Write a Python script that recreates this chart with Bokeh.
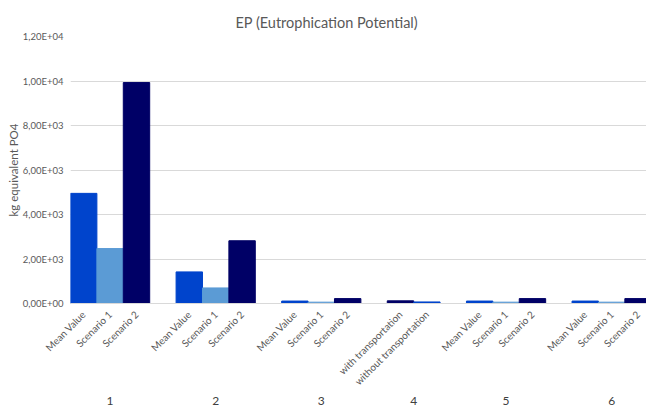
import math

from bokeh.plotting import figure
from bokeh.models import (ColumnDataSource, FixedTicker, CustomJSTickFormatter,
                          LinearAxis, Range1d)
from bokeh.embed import file_html
from bokeh.resources import INLINE

# Chart data: six cases, each with its own set of variants
groups = ["1", "2", "3", "4", "5", "6"]
group_sizes = [3, 3, 3, 2, 3, 3]
leaf_labels = [
    "Mean Value", "Scenario 1", "Scenario 2",
    "Mean Value", "Scenario 1", "Scenario 2",
    "Mean Value", "Scenario 1", "Scenario 2",
    "with transportation", "without transportation",
    "Mean Value", "Scenario 1", "Scenario 2",
    "Mean Value", "Scenario 1", "Scenario 2",
]
ep_values = [
    4950, 2470, 9930,
    1420, 700, 2820,
    110, 60, 220,
    120, 70,
    110, 60, 220,
    110, 60, 220,
]
y_ticks = [0, 2000, 4000, 6000, 8000, 10000, 12000]

# Bar colours per variant
variant_colors = {
    "Mean Value": "#0044CC",
    "Scenario 1": "#5B9BD5",
    "Scenario 2": "#000066",
    "with transportation": "#000066",
    "without transportation": "#0044CC",
}

# Position each bar: two units per bar, one empty bar slot between cases
leaf_x, leaf_group = [], []
i = 0
for g, n in enumerate(group_sizes):
    for _ in range(n):
        leaf_x.append(2 * i + 2 * g)
        leaf_group.append(groups[g])
        i += 1
group_x = []
for g in groups:
    xs = [x for x, lg in zip(leaf_x, leaf_group) if lg == g]
    group_x.append(sum(xs) // len(xs))

source = ColumnDataSource(dict(
    x=leaf_x,
    top=ep_values,
    label=leaf_labels,
    color=[variant_colors[l] for l in leaf_labels],
))

FONT = "Lato"
GREY = "#595959"

p = figure(width=646, height=407, output_backend="svg", toolbar_location=None,
           x_range=Range1d(-1, 42.64), y_range=Range1d(0, 12000),
           min_border_left=70, min_border_right=0, min_border_top=36,
           min_border_bottom=0)
p.outline_line_color = None
p.background_fill_color = "white"
p.border_fill_color = "white"

p.vbar(x="x", top="top", width=2, bottom=0, color="color", source=source)

# Title
p.title.text = "EP (Eutrophication Potential)"
p.title.text_font = FONT
p.title.text_font_size = "14.5px"
p.title.text_font_style = "normal"
p.title.text_color = GREY
p.title.align = "left"
p.title.offset = 165
p.title.standoff = 12

# Y axis
p.yaxis.ticker = FixedTicker(ticks=y_ticks)
p.yaxis.formatter = CustomJSTickFormatter(code="""
    if (tick == 0) return "0,00E+00";
    const e = Math.floor(Math.log10(Math.abs(tick)) + 1e-9);
    const m = tick / Math.pow(10, e);
    const es = (e < 0 ? "-" : "+") + String(Math.abs(e)).padStart(2, "0");
    return m.toFixed(2).replace(".", ",") + "E" + es;
""")
p.yaxis.axis_label = "kg equivalent PO4"
p.yaxis.axis_label_text_font = FONT
p.yaxis.axis_label_text_font_size = "11.5px"
p.yaxis.axis_label_text_font_style = "normal"
p.yaxis.axis_label_text_color = GREY
p.yaxis.axis_label_standoff = 0
p.yaxis.major_label_text_font = FONT
p.yaxis.major_label_text_font_size = "9.5px"
p.yaxis.major_label_text_color = GREY
p.yaxis.major_label_standoff = 7
p.yaxis.axis_line_color = None
p.yaxis.major_tick_line_color = None
p.yaxis.minor_tick_line_color = None
p.yaxis.major_tick_out = 0
p.yaxis.major_tick_in = 0

p.ygrid.grid_line_color = "#D9D9D9"
p.xgrid.grid_line_color = None

# Variant labels under each bar
p.xaxis.ticker = FixedTicker(ticks=leaf_x)
p.xaxis.major_label_overrides = {x: l for x, l in zip(leaf_x, leaf_labels)}
p.xaxis.major_label_orientation = math.pi / 4
p.xaxis.major_label_text_font = FONT
p.xaxis.major_label_text_font_size = "10px"
p.xaxis.major_label_text_color = GREY
p.xaxis.major_label_standoff = 9
p.xaxis.axis_line_color = "#D9D9D9"
p.xaxis.major_tick_line_color = None
p.xaxis.minor_tick_line_color = None
p.xaxis.major_tick_out = 0
p.xaxis.major_tick_in = 0

# Case numbers below the variant labels
case_axis = LinearAxis(ticker=FixedTicker(ticks=group_x),
                       major_label_overrides={x: g for x, g in zip(group_x, groups)})
case_axis.major_label_text_font = FONT
case_axis.major_label_text_font_size = "12px"
case_axis.major_label_text_color = "#404040"
case_axis.major_label_standoff = 2
case_axis.major_tick_out = 0
case_axis.major_tick_in = 0
case_axis.axis_line_color = None
case_axis.major_tick_line_color = None
case_axis.minor_tick_line_color = None
p.add_layout(case_axis, "below")

open("out.html", "w").write(file_html(p, INLINE))
